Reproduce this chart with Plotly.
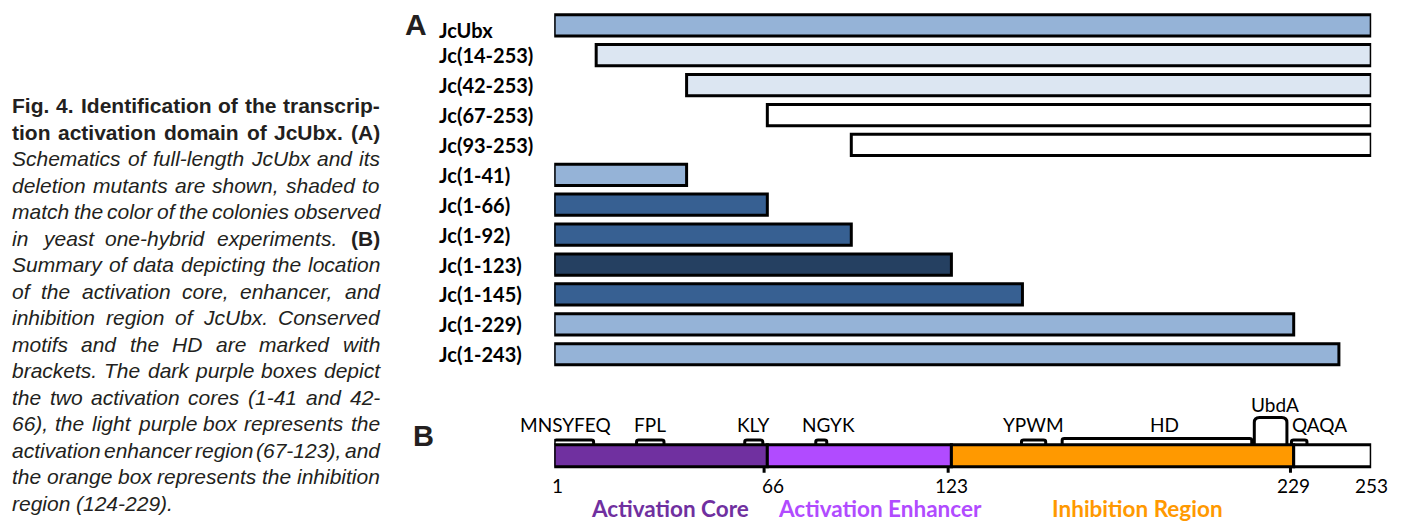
import plotly.graph_objects as go

# ---------------- Panel A: JcUbx constructs ----------------
constructs = ["JcUbx", "Jc(14-253)", "Jc(42-253)", "Jc(67-253)", "Jc(93-253)",
              "Jc(1-41)", "Jc(1-66)", "Jc(1-92)", "Jc(1-123)", "Jc(1-145)",
              "Jc(1-229)", "Jc(1-243)"]
start_res = [1, 14, 42, 67, 93, 1, 1, 1, 1, 1, 1, 1]
end_res = [253, 253, 253, 253, 253, 41, 66, 92, 123, 145, 229, 243]
colony_shade = ["#95B3D7", "#DCE6F2", "#DCE6F2", "#FFFFFF", "#FFFFFF",
                "#95B3D7", "#376092", "#376092", "#254061", "#376092",
                "#95B3D7", "#95B3D7"]

# ---------------- Panel B: domain summary ----------------
region_names = ["Activation Core", "Activation Enhancer", "Inhibition Region", ""]
region_start = [0, 66, 123, 229]
region_end = [66, 123, 229, 253]
region_colors = ["#7030A0", "#B14BFF", "#FF9900", "#FFFFFF"]
boundary_labels = [1, 66, 123, 229, 253]
boundary_ticks = [66, 123, 229]

motifs = ["MNSYFEQ", "FPL", "KLY", "NGYK", "YPWM", "HD", "UbdA", "QAQA"]
motif_start = [0, 25.5, 59, 81, 144.7, 157.3, 216.8, 228.3]
motif_end = [12.2, 34, 64.6, 84.4, 152.2, 216, 226.9, 233.1]

PROTEIN_LEN = 253

# ---------------- Caption ----------------
CAPTION = [
    ("b", "Fig. 4. Identification of the transcrip-"),
    ("b", "tion activation domain of JcUbx. (A)"),
    ("i", "Schematics of full-length JcUbx and its"),
    ("i", "deletion mutants are shown, shaded to"),
    ("i", "match the color of the colonies observed"),
    ("i", "in yeast one-hybrid experiments. *(B)"),
    ("i", "Summary of data depicting the location"),
    ("i", "of the activation core, enhancer, and"),
    ("i", "inhibition region of JcUbx. Conserved"),
    ("i", "motifs and the HD are marked with"),
    ("i", "brackets. The dark purple boxes depict"),
    ("i", "the two activation cores (1-41 and 42-"),
    ("i", "66), the light purple box represents the"),
    ("i", "activation enhancer region (67-123), and"),
    ("i", "the orange box represents the inhibition"),
    ("i", "region (124-229)."),
]

W, H = 1408, 522
INK = "#231f20"


def px_x(p):
    return p / W


def px_y(p):
    return 1 - p / H


# Liberation Sans advance widths (1/1000 em), regular/italic and bold
REG_W = {" ": 278, "(": 333, ")": 333, ",": 278, "-": 333, ".": 278}
BOLD_W = dict(REG_W)
for d in "0123456789":
    REG_W[d] = 556
    BOLD_W[d] = 556
REG_W.update(dict(zip("ABCDEFGHIJKLMNOPQRSTUVWXYZ",
                      [667, 667, 722, 722, 667, 611, 778, 722, 278, 500, 667, 556, 833,
                       722, 778, 667, 778, 722, 667, 611, 722, 667, 944, 667, 667, 611])))
REG_W.update(dict(zip("abcdefghijklmnopqrstuvwxyz",
                      [556, 556, 500, 556, 556, 278, 556, 556, 222, 222, 500, 222, 833,
                       556, 556, 556, 556, 333, 500, 278, 556, 500, 722, 500, 500, 500])))
BOLD_W.update(dict(zip("ABCDEFGHIJKLMNOPQRSTUVWXYZ",
                       [722, 722, 722, 722, 667, 611, 778, 722, 278, 556, 722, 611, 833,
                        722, 778, 667, 778, 722, 667, 611, 722, 667, 944, 667, 667, 611])))
BOLD_W.update(dict(zip("abcdefghijklmnopqrstuvwxyz",
                       [556, 611, 556, 611, 556, 333, 611, 611, 278, 278, 556, 278, 889,
                        611, 611, 611, 611, 389, 556, 333, 611, 556, 778, 556, 556, 500])))

CAP_FS = 21
CAP_LEFT, CAP_RIGHT = 12, 380
CAP_TOP_BASELINE, CAP_LEADING = 113, 26.5


def word_width(word, bold):
    table = BOLD_W if bold else REG_W
    return sum(table.get(ch, 556) for ch in word) * CAP_FS / 1000.0


annotations = []

for i, (style, line) in enumerate(CAPTION):
    toks = []
    for w in line.split(" "):
        marked = w.startswith("*")
        w = w.lstrip("*")
        bold = style == "b" or marked
        italic = style == "i" and not marked
        toks.append((w, bold, italic))
    widths = [word_width(w, b) for w, b, _ in toks]
    last = i == len(CAPTION) - 1
    if not last and len(toks) > 1:
        gap = (CAP_RIGHT - CAP_LEFT - sum(widths)) / (len(toks) - 1)
    else:
        gap = REG_W[" "] * CAP_FS / 1000.0
    x = CAP_LEFT
    baseline = CAP_TOP_BASELINE + i * CAP_LEADING
    for (w, b, it), wd in zip(toks, widths):
        txt = w
        if b:
            txt = f"<b>{txt}</b>"
        if it:
            txt = f"<i>{txt}</i>"
        annotations.append(dict(
            x=px_x(x), y=px_y(baseline - 0.3465 * CAP_FS), xref="paper", yref="paper",
            text=txt, showarrow=False, xanchor="left", yanchor="middle",
            borderpad=0, borderwidth=0,
            font=dict(family="Liberation Sans", size=CAP_FS, color=INK)))
        x += wd + gap

# Panel letters
annotations.append(dict(x=px_x(416), y=px_y(24.5), xref="paper", yref="paper", text="<b>A</b>",
                        showarrow=False, xanchor="center", yanchor="middle",
                        font=dict(family="Liberation Sans", size=30, color=INK)))
annotations.append(dict(x=px_x(423), y=px_y(435.5), xref="paper", yref="paper", text="<b>B</b>",
                        showarrow=False, xanchor="center", yanchor="middle",
                        font=dict(family="Liberation Sans", size=29, color=INK)))

# Construct names, left aligned
label_yshift = {"JcUbx": -5}
for name in constructs:
    annotations.append(dict(
        x=px_x(437), y=name, xref="paper", yref="y", text=f"<b>{name}</b>",
        showarrow=False, xanchor="left", yanchor="middle", yshift=label_yshift.get(name, 0),
        font=dict(family="Lato", size=20, color="#000000")))

# ---------------- Figure ----------------
fig = go.Figure()

fig.add_trace(go.Bar(
    orientation="h",
    y=constructs,
    base=[s - 1 for s in start_res],
    x=[e - (s - 1) for s, e in zip(start_res, end_res)],
    width=0.71,
    marker=dict(color=colony_shade, line=dict(color="#000000", width=3)),
    xaxis="x", yaxis="y", hoverinfo="skip",
))

BAR_LO, BAR_HI = 13.2, 35.2  # vertical extent of the domain bar (y2 units)
fig.add_trace(go.Bar(
    orientation="h",
    y=[(BAR_LO + BAR_HI) / 2] * len(region_start),
    base=region_start,
    x=[e - s for s, e in zip(region_start, region_end)],
    width=BAR_HI - BAR_LO,
    marker=dict(color=region_colors, line=dict(color="#000000", width=3)),
    xaxis="x2", yaxis="y2", hoverinfo="skip",
))

shapes = []


def bracket_path(s, e, top, base, rx, ry):
    return (f"M {s},{base} L {s},{top - ry} Q {s},{top} {s + rx},{top} "
            f"L {e - rx},{top} Q {e},{top} {e},{top - ry} L {e},{base}")


bracket_top = {"HD": 41.5, "UbdA": 62.5}
for name, s, e in zip(motifs, motif_start, motif_end):
    top = bracket_top.get(name, 40.0)
    tall = name == "UbdA"
    shapes.append(dict(
        type="path", xref="x2", yref="y2",
        path=bracket_path(s, e, top, BAR_HI, 1.6 if tall else 0.7, 5 if tall else 1.8),
        line=dict(color="#000000", width=3), layer="above"))

for t in boundary_ticks:
    shapes.append(dict(type="line", xref="x2", yref="y2", x0=t - 1, x1=t - 1,
                       y0=BAR_LO, y1=BAR_LO - 6, line=dict(color="#000000", width=3)))

# Motif labels
motif_label_shift = {"MNSYFEQ": -8, "NGYK": 7, "HD": 8, "UbdA": 4}
for name, s, e in zip(motifs, motif_start, motif_end):
    if name == "QAQA":
        annotations.append(dict(x=s, y=56, xref="x2", yref="y2", text=name, showarrow=False,
                                xanchor="left", yanchor="middle", xshift=-1,
                                font=dict(family="Lato", size=19, color="#000000")))
    else:
        annotations.append(dict(x=(s + e) / 2, y=76 if name == "UbdA" else 56, xref="x2", yref="y2",
                                text=name, showarrow=False, xanchor="center", yanchor="middle",
                                xshift=motif_label_shift.get(name, 0),
                                font=dict(family="Lato", size=19, color="#000000")))

# Residue numbers under the bar
for v in boundary_labels:
    annotations.append(dict(x=v, y=-5, xref="x2", yref="y2", text=str(v), showarrow=False,
                            xanchor="center", yanchor="middle",
                            xshift=6 if v == 66 else 0,
                            font=dict(family="Lato", size=19, color="#000000")))

# Region names, sitting on the bottom edge
region_label_px = {"Activation Core": 670, "Activation Enhancer": 880, "Inhibition Region": 1137.5}
for name, col in zip(region_names, region_colors):
    if not name:
        continue
    annotations.append(dict(x=px_x(region_label_px[name]), y=0, xref="paper", yref="paper",
                            text=f"<b>{name}</b>", showarrow=False, xanchor="center",
                            yanchor="bottom", borderpad=0, borderwidth=0,
                            font=dict(family="Lato", size=22.5, color=col)))

X_DOMAIN = [px_x(554.2), px_x(1371.2)]
hidden = dict(visible=False, showgrid=False, zeroline=False, fixedrange=True)

fig.update_layout(
    width=W, height=H,
    margin=dict(l=0, r=0, t=0, b=0),
    paper_bgcolor="#FFFFFF", plot_bgcolor="rgba(0,0,0,0)",
    showlegend=False, barmode="overlay",
    xaxis=dict(domain=X_DOMAIN, range=[0, PROTEIN_LEN], anchor="y", **hidden),
    yaxis=dict(domain=[px_y(369.2), px_y(10.35)], type="category", categoryorder="array",
               categoryarray=constructs, range=[len(constructs) - 0.5, -0.5], anchor="x", **hidden),
    xaxis2=dict(domain=X_DOMAIN, range=[0, PROTEIN_LEN], anchor="y2", **hidden),
    yaxis2=dict(domain=[0, px_y(400)], range=[-42, 80], anchor="x2", **hidden),
    shapes=shapes,
    annotations=annotations,
)

fig.write_html("out.html", config={"displayModeBar": False})
